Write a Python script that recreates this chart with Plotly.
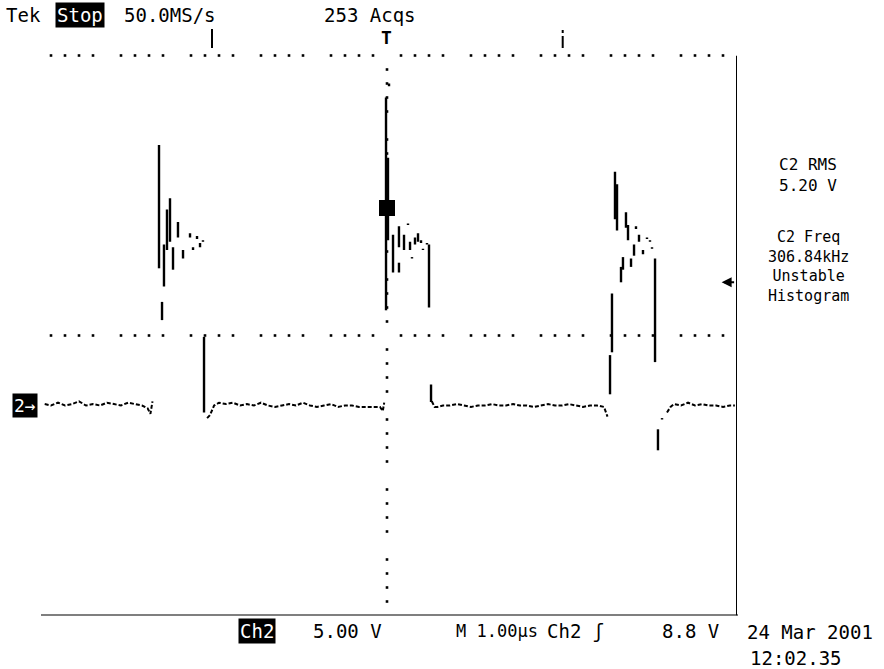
import plotly.graph_objects as go

# ---- Ch2 record: 1.00 us/div, 5.00 V/div, ground at 0 V ----
# vertical sample spans drawn by the dot-mode display (time us, upper V, lower V)
burst1_t = [-3.257, -3.214, -3.186, -3.143, -3.100, -3.057, -2.986, -2.914,
            -2.814, -2.771, -2.714, -2.671, -2.629, -2.614]
burst1_hi = [18.6, 7.4, 11.5, 14.0, 14.8, 11.3, 13.1, 11.1, 12.3, 11.3, 12.1, 11.6, 11.8, 4.9]
burst1_lo = [9.8, 6.1, 8.5, 11.1, 11.7, 9.7, 12.0, 10.5, 12.0, 11.1, 11.9, 11.3, 11.7, -0.5]

burst2_t = [0.029, -0.014, 0.014, 0.086, 0.171, 0.171, 0.243, 0.300, 0.329, 0.357,
            0.400, 0.443, 0.486, 0.514, 0.571, 0.600, 0.629]
burst2_hi = [23.0, 22.0, 17.7, 12.2, 12.8, 10.2, 12.2, 13.0, 11.7, 10.6,
             12.0, 12.3, 11.8, 11.2, 11.6, 11.5, 1.5]
burst2_lo = [22.8, 6.8, 11.8, 9.5, 11.3, 9.5, 11.1, 12.9, 11.1, 10.5,
             11.5, 11.7, 11.6, 11.1, 11.5, 7.0, 0.25]

burst3_t = [3.186, 3.214, 3.257, 3.286, 3.343, 3.371, 3.414, 3.443, 3.486, 3.529,
            3.557, 3.600, 3.657, 3.714, 3.757, 3.786, 3.829, 3.871, 3.929]
burst3_hi = [3.6, 8.0, 16.7, 15.8, 9.9, 10.6, 13.8, 12.9, 10.5, 11.5,
             12.8, 12.2, 11.1, 12.0, 11.8, 11.3, 10.5, -1.7, -0.9]
burst3_lo = [0.8, 3.8, 13.3, 12.5, 8.8, 9.7, 12.7, 11.8, 9.9, 10.7,
             12.6, 11.7, 10.8, 11.9, 11.7, 11.2, 3.1, -3.2, -1.0]

# low-level stretches between pulses (time us, V)
base1_t = [-4.89, -4.80, -4.70, -4.60, -4.50, -4.40, -4.30, -4.20, -4.10, -4.00,
           -3.90, -3.80, -3.70, -3.60, -3.50, -3.42, -3.38, -3.35]
base1_v = [0.1, 0.0, 0.2, 0.0, 0.1, 0.3, 0.0, 0.1, 0.0, 0.2,
           0.1, 0.0, 0.2, 0.1, 0.0, -0.2, -0.6, 0.3]
base2_t = [-2.57, -2.53, -2.47, -2.40, -2.30, -2.20, -2.10, -2.00, -1.90, -1.80,
           -1.70, -1.60, -1.50, -1.40, -1.30, -1.20, -1.10, -1.00, -0.90, -0.80,
           -0.70, -0.60, -0.50, -0.40, -0.30, -0.20, -0.10, -0.06, -0.04]
base2_v = [-0.9, -0.7, 0.0, 0.2, 0.1, 0.2, 0.0, 0.1, 0.0, 0.2,
           0.0, -0.1, 0.0, 0.1, 0.0, 0.2, 0.0, -0.1, 0.0, 0.1,
           -0.1, 0.0, 0.0, -0.1, -0.1, -0.1, -0.1, -0.4, 0.2]
base3_t = [0.64, 0.68, 0.72, 0.80, 0.90, 1.00, 1.10, 1.20, 1.30, 1.40,
           1.50, 1.60, 1.70, 1.80, 1.90, 2.00, 2.10, 2.20, 2.30, 2.40,
           2.50, 2.60, 2.70, 2.80, 2.90, 3.00, 3.10, 3.13, 3.15]
base3_v = [0.3, -0.1, -0.1, 0.0, 0.0, 0.1, 0.0, -0.1, 0.0, 0.0,
           0.1, 0.0, 0.0, 0.1, 0.0, 0.0, -0.1, 0.0, 0.1, 0.0,
           0.0, 0.1, 0.0, -0.1, 0.0, 0.0, -0.1, -0.6, -0.8]
base4_t = [4.00, 4.05, 4.10, 4.20, 4.30, 4.40, 4.50, 4.60, 4.70, 4.80, 4.90, 4.97]
base4_v = [-0.5, -0.1, 0.1, 0.0, 0.2, 0.0, 0.1, 0.0, 0.0, -0.1, 0.0, 0.0]

record_mark = (0.0, 14.1)      # dense cluster at the trigger point

# ---- readouts ----
trigger_level = 8.8            # V, Ch2 rising edge
volts_per_div = "5.00 V"
time_per_div = "M 1.00\u00b5s"
sample_rate = "50.0MS/s"
acqs = "253 Acqs"
rms_readout = ["C2 RMS", "5.20 V"]
freq_readout = ["C2 Freq", "306.84kHz", "Unstable", "Histogram"]
date_str = "24 Mar 2001"
time_str = "12:02.35"

W, H = 884, 669
T_MIN, T_MAX = -5.0, 5.0
V_MIN, V_MAX = -15.0, 25.0
FONT = "DejaVu Sans Mono"


def px(x):
    return x / W


def py(y):
    return 1 - y / H


def spans(ts, his, los):
    xs, ys = [], []
    for t, hi, lo in zip(ts, his, los):
        xs += [t, t, None]
        ys += [hi, lo, None]
    return xs, ys


fig = go.Figure()

# graticule: dotted top edge, centre cross
minor_t = [round(-5 + 0.2 * k, 2) for k in range(51)]
edge_t = [t for t in minor_t if abs(t - round(t)) > 1e-6]
dot = dict(symbol="square", size=2.6, color="black")
fig.add_trace(go.Scatter(x=edge_t, y=[V_MAX] * len(edge_t), mode="markers",
                         marker=dot, cliponaxis=False, hoverinfo="skip"))
fig.add_trace(go.Scatter(x=edge_t, y=[5.0] * len(edge_t), mode="markers",
                         marker=dot, cliponaxis=False, hoverinfo="skip"))
minor_v = [V_MIN + k for k in range(41)]
cross_v = [v for v in minor_v if v % 5 != 0]
fig.add_trace(go.Scatter(x=[0.0] * len(cross_v), y=cross_v, mode="markers",
                         marker=dot, cliponaxis=False, hoverinfo="skip"))

# waveform
for ts, his, los in [(burst1_t, burst1_hi, burst1_lo),
                     (burst2_t, burst2_hi, burst2_lo),
                     (burst3_t, burst3_hi, burst3_lo)]:
    xs, ys = spans(ts, his, los)
    fig.add_trace(go.Scatter(x=xs, y=ys, mode="lines",
                             line=dict(color="black", width=2.4),
                             cliponaxis=False, hoverinfo="skip"))
for ts, vs in [(base1_t, base1_v), (base2_t, base2_v),
               (base3_t, base3_v), (base4_t, base4_v)]:
    fig.add_trace(go.Scatter(x=ts, y=vs, mode="lines",
                             line=dict(color="black", width=2, dash="4px,2px"),
                             hoverinfo="skip"))
fig.add_trace(go.Scatter(x=[record_mark[0]], y=[record_mark[1]], mode="markers",
                         marker=dict(symbol="square", size=16, color="black"),
                         hoverinfo="skip"))

shapes = [
    # right frame edge and bottom edge
    dict(type="line", xref="x", yref="y", x0=T_MAX, x1=T_MAX, y0=V_MIN, y1=V_MAX,
         line=dict(color="black", width=2)),
    dict(type="line", xref="paper", yref="y", x0=px(41), x1=px(738), y0=V_MIN, y1=V_MIN,
         line=dict(color="black", width=2)),
    # horizontal position markers above the screen
    dict(type="line", xref="x", yref="paper", x0=-2.5, x1=-2.5, y0=py(48), y1=py(29),
         line=dict(color="black", width=2)),
    dict(type="line", xref="x", yref="paper", x0=2.51, x1=2.51, y0=py(48), y1=py(36),
         line=dict(color="black", width=2)),
    dict(type="line", xref="x", yref="paper", x0=2.51, x1=2.51, y0=py(33), y1=py(30),
         line=dict(color="black", width=2)),
]

ann = []


def label(text, x, y, size=19, anchor="left", color="black", bg=None):
    d = dict(text=text, xref="paper", yref="paper", x=px(x), y=py(y),
             xanchor=anchor, yanchor="middle", showarrow=False,
             font=dict(family=FONT, size=size, color=color))
    if bg:
        d.update(bgcolor=bg, borderpad=1)
    ann.append(d)


label("Tek", 4, 15)
label("Stop", 55, 15, color="white", bg="black")
label(sample_rate, 122, 15)
label(acqs, 322, 15)
label("<b>T</b>", 386, 38, size=18, anchor="center")

# measurement readouts, one block each
label("<br>".join(rms_readout), 808, 175, size=16, anchor="center")
label("<br>".join(freq_readout), 808, 266, size=15, anchor="center")

label("Ch2", 238, 631, color="white", bg="black")
label(volts_per_div, 311, 631)
label(time_per_div, 454, 631, size=17)
label("Ch2 \u0283", 545, 631)
label(f"{trigger_level} V", 721, 631, anchor="right")
label(date_str, 745, 632)
label(time_str, 748, 658)

# ground reference marker
ann.append(dict(text="2\u2192", xref="paper", yref="y", x=px(12), y=0.0,
                xanchor="left", yanchor="middle", showarrow=False,
                bgcolor="black", borderpad=1,
                font=dict(family=FONT, size=18, color="white")))
# trigger level arrow
ann.append(dict(text="", xref="x", yref="y", x=4.78, y=trigger_level,
                ax=14, ay=0, showarrow=True, arrowhead=2, arrowsize=1,
                arrowwidth=2, arrowcolor="black"))

fig.update_layout(
    width=W, height=H, autosize=False,
    margin=dict(l=0, r=0, t=0, b=0),
    paper_bgcolor="white", plot_bgcolor="white",
    showlegend=False,
    xaxis=dict(domain=[px(37), px(737)], range=[T_MIN, T_MAX], visible=False, fixedrange=True),
    yaxis=dict(domain=[py(615.5), py(55.5)], range=[V_MIN, V_MAX], visible=False, fixedrange=True),
    shapes=shapes, annotations=ann,
)

fig.write_html("out.html")
